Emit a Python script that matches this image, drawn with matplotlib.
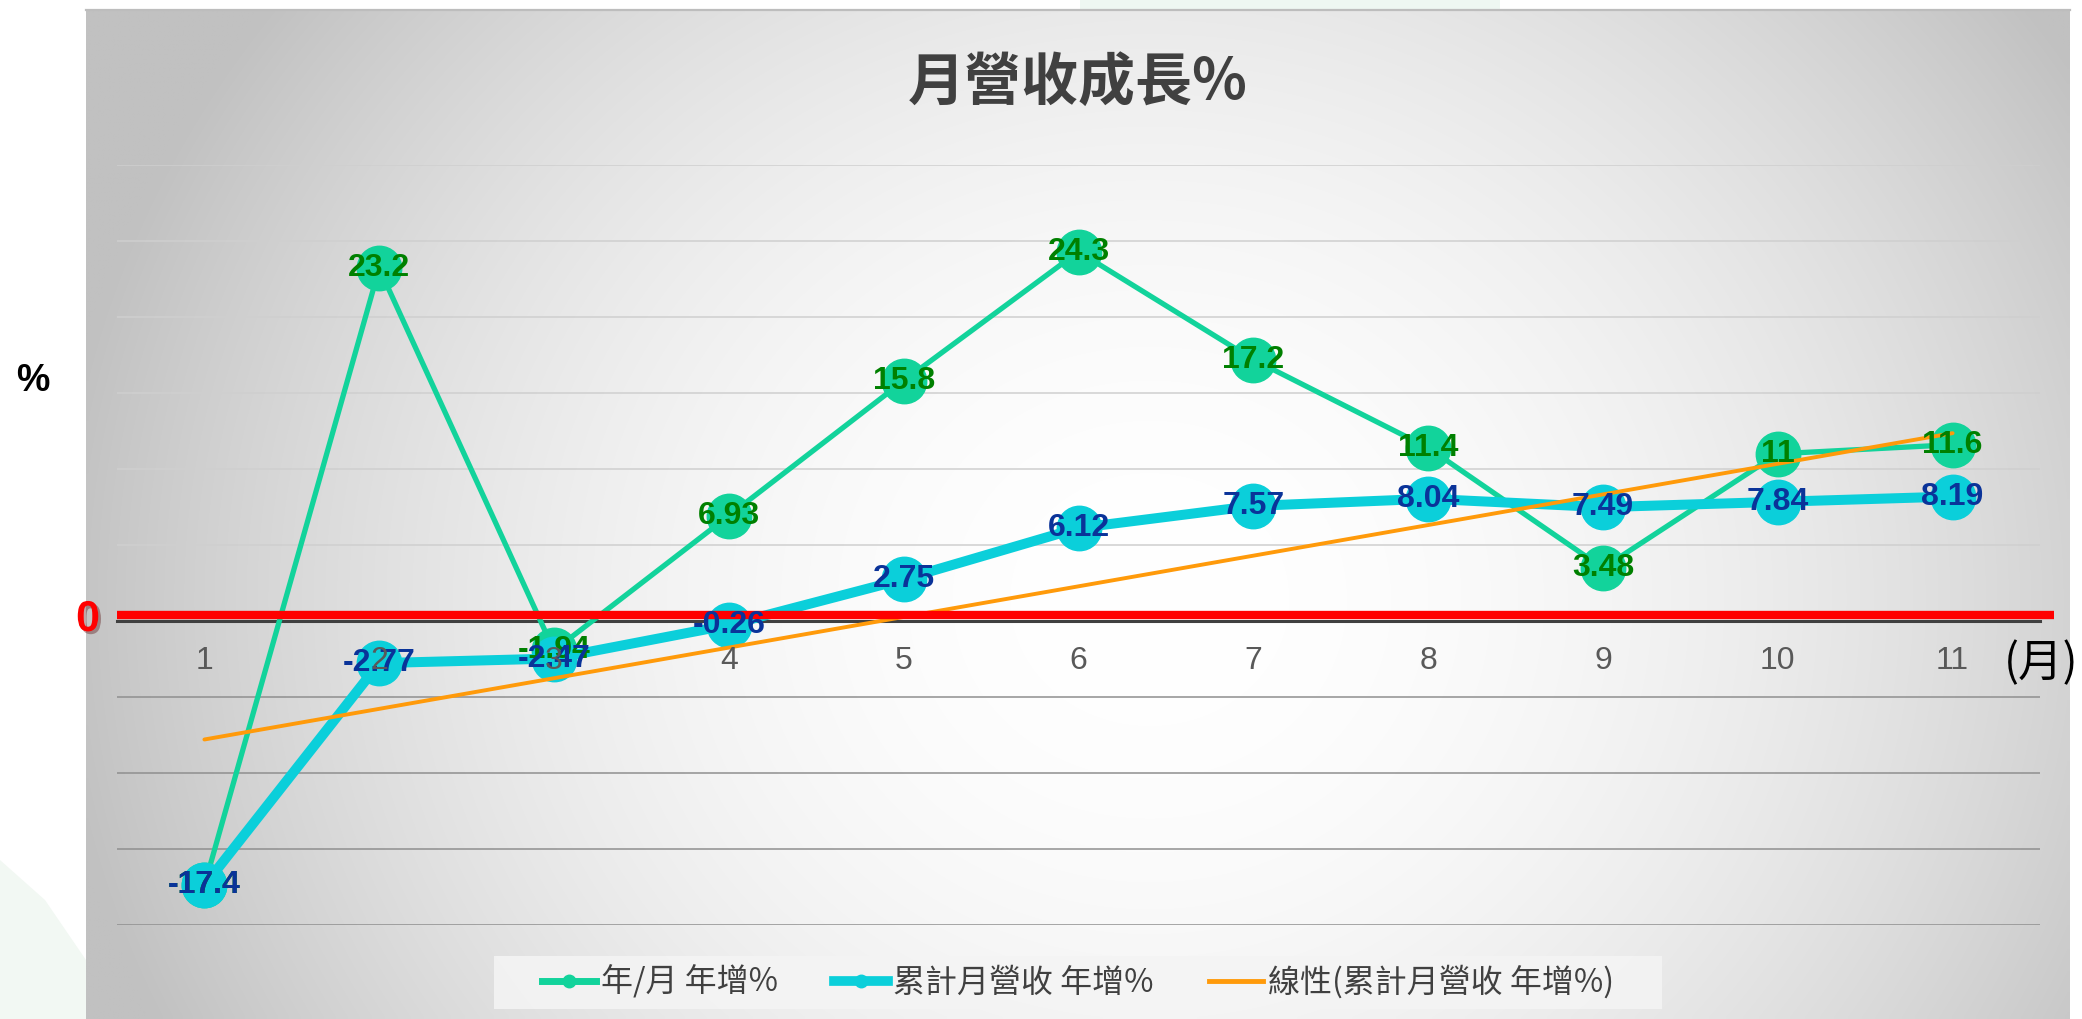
"""Monthly revenue growth chart: YoY by month, cumulative YoY and its linear trend."""

import matplotlib.pyplot as plt
import matplotlib.patheffects as pe
import numpy as np
from matplotlib.lines import Line2D
from matplotlib.patches import Polygon, Rectangle

W, H = 2082, 1019

CJK = ["Noto Sans CJK TC", "DejaVu Sans"]
NUM = ["Liberation Sans", "DejaVu Sans"]

# ---- data -------------------------------------------------------------
months = list(range(1, 12))
month_labels = [str(m) for m in months]
yoy = [-17.4, 23.2, -1.94, 6.93, 15.8, 24.3, 17.2, 11.4, 3.48, 11, 11.6]
cum_yoy = [-17.4, -2.77, -2.47, -0.26, 2.75, 6.12, 7.57, 8.04, 7.49, 7.84, 8.19]
grid_levels = [-20, -15, -10, -5, 5, 10, 15, 20, 25, 30]

title = "月營收成長%"
series_names = ["年/月 年增%", "累計月營收 年增%", "線性(累計月營收 年增%)"]

GREEN = "#12d39b"
CYAN = "#0bcfda"
ORANGE = "#ff9a0a"
GREEN_TXT = "#008000"
BLUE_TXT = "#0a3399"

# Excel style linear trendline of the cumulative series
coef = np.polyfit(months, cum_yoy, 1)
trend = np.polyval(coef, months)

fig = plt.figure(figsize=(W / 100, H / 100), dpi=100)
fig.patch.set_facecolor("white")

# ---- background panel (pixel coordinates) ------------------------------
bg = fig.add_axes([0, 0, 1, 1], zorder=0)
bg.set_xlim(0, W)
bg.set_ylim(H, 0)
bg.axis("off")

px0, px1, py0, py1 = 86, 2070, 10, H
xx, yy = np.meshgrid(np.linspace(px0, px1, 400), np.linspace(py0, py1, 220))
r2 = ((xx - 1150) / 1100) ** 2 + ((yy - 600) / 1000) ** 2
shade = 1.0 - (62 / 255) * np.clip(r2, 0, 1)
bg.imshow(np.dstack([shade] * 3), extent=(px0, px1, py1, py0), aspect="auto",
          interpolation="bilinear", zorder=1)
bg.plot([px0, px1], [py0, py0], color="#bdbdbd", lw=1.6, zorder=2)

# faint decorative swooshes outside the panel
bg.add_patch(Polygon([(0, 860), (45, 900), (86, 960), (86, H), (0, H)],
                     closed=True, facecolor="#f2f8f3", edgecolor="none", zorder=1))
bg.add_patch(Rectangle((1080, 0), 420, py0, facecolor="#eef7f2", edgecolor="none", zorder=1))

# legend backdrop
bg.add_patch(Rectangle((494, 956), 1168, 53, facecolor="#f4f4f4", edgecolor="none",
                       alpha=0.9, zorder=3))

# ---- chart -------------------------------------------------------------
ax = fig.add_axes([117 / W, 94 / H, 1923 / W, 760 / H], zorder=1)
ax.set_facecolor("none")
ax.set_xlim(0.5, 11.5)
ax.set_ylim(-20, 30)

for lv in grid_levels:
    ax.axhline(lv, color="#cfcfcf" if lv > 0 else "#8f8f8f", lw=1.1, zorder=1)

ax.plot(months, yoy, color=GREEN, lw=3.8, marker="o", ms=32, mfc=GREEN, mec=GREEN,
        zorder=3)
ax.plot(months, cum_yoy, color=CYAN, lw=7.2, marker="o", ms=32, mfc=CYAN, mec=CYAN,
        zorder=4)
ax.plot(months, trend, color=ORANGE, lw=2.8, zorder=5, solid_capstyle="round")

# red zero marker line, drawn a touch above the axis and past its right end
ax.plot([0, 1.0075], [0.4, 0.4], transform=ax.get_yaxis_transform(), color="#ff0000",
        lw=6, zorder=6, clip_on=False, solid_capstyle="butt")

for x, v in zip(months, yoy):
    ax.text(x, v, f"{v:g}", ha="center", va="center", fontsize=23, fontweight="bold",
            color=GREEN_TXT, family=NUM, zorder=7)
for x, v in zip(months, cum_yoy):
    ax.text(x, v, f"{v:g}", ha="center", va="center", fontsize=23, fontweight="bold",
            color=BLUE_TXT, family=NUM, zorder=7)

for s in ("top", "right", "left"):
    ax.spines[s].set_visible(False)
ax.spines["bottom"].set_position(("data", 0))
ax.spines["bottom"].set_color("#404040")
ax.spines["bottom"].set_linewidth(2.2)
ax.spines["bottom"].set_zorder(2)
ax.set_yticks([])
ax.set_xticks(months, month_labels)
ax.tick_params(axis="x", length=0, pad=18, labelsize=23, labelcolor="#595959")
for lab in ax.get_xticklabels():
    lab.set_family(NUM)
ax.xaxis.set_zorder(8)

# ---- texts --------------------------------------------------------------
fig.text(1078 / W, 1 - 83 / H, title, ha="center", va="center", fontsize=41,
         fontweight="bold", color="#404040", family=CJK)
fig.text(33 / W, 1 - 381 / H, "%", ha="center", va="center", fontsize=27,
         fontweight="bold", color="black", family=NUM)
fig.text(88 / W, 1 - 620 / H, "0", ha="center", va="center", fontsize=31,
         fontweight="bold", color="#ff0000", family=NUM,
         path_effects=[pe.SimplePatchShadow(offset=(2, -2), alpha=0.35), pe.Normal()])
fig.text(2041 / W, 1 - 663 / H, "(月)", ha="center", va="center", fontsize=32,
         color="black", family=CJK)

handles = [
    Line2D([], [], color=GREEN, lw=5, marker="o", ms=9, mfc=GREEN, mec=GREEN),
    Line2D([], [], color=CYAN, lw=7, marker="o", ms=9, mfc=CYAN, mec=CYAN),
    Line2D([], [], color=ORANGE, lw=3.5),
]
leg = fig.legend(handles, series_names, loc="center", bbox_to_anchor=(1078 / W, 1 - 982 / H),
                 ncol=3, frameon=False, handlelength=1.7, handletextpad=0.15,
                 columnspacing=1.75, prop={"family": CJK, "size": 23})
for t in leg.get_texts():
    t.set_color("#404040")

fig.savefig("out.png", dpi=100)
